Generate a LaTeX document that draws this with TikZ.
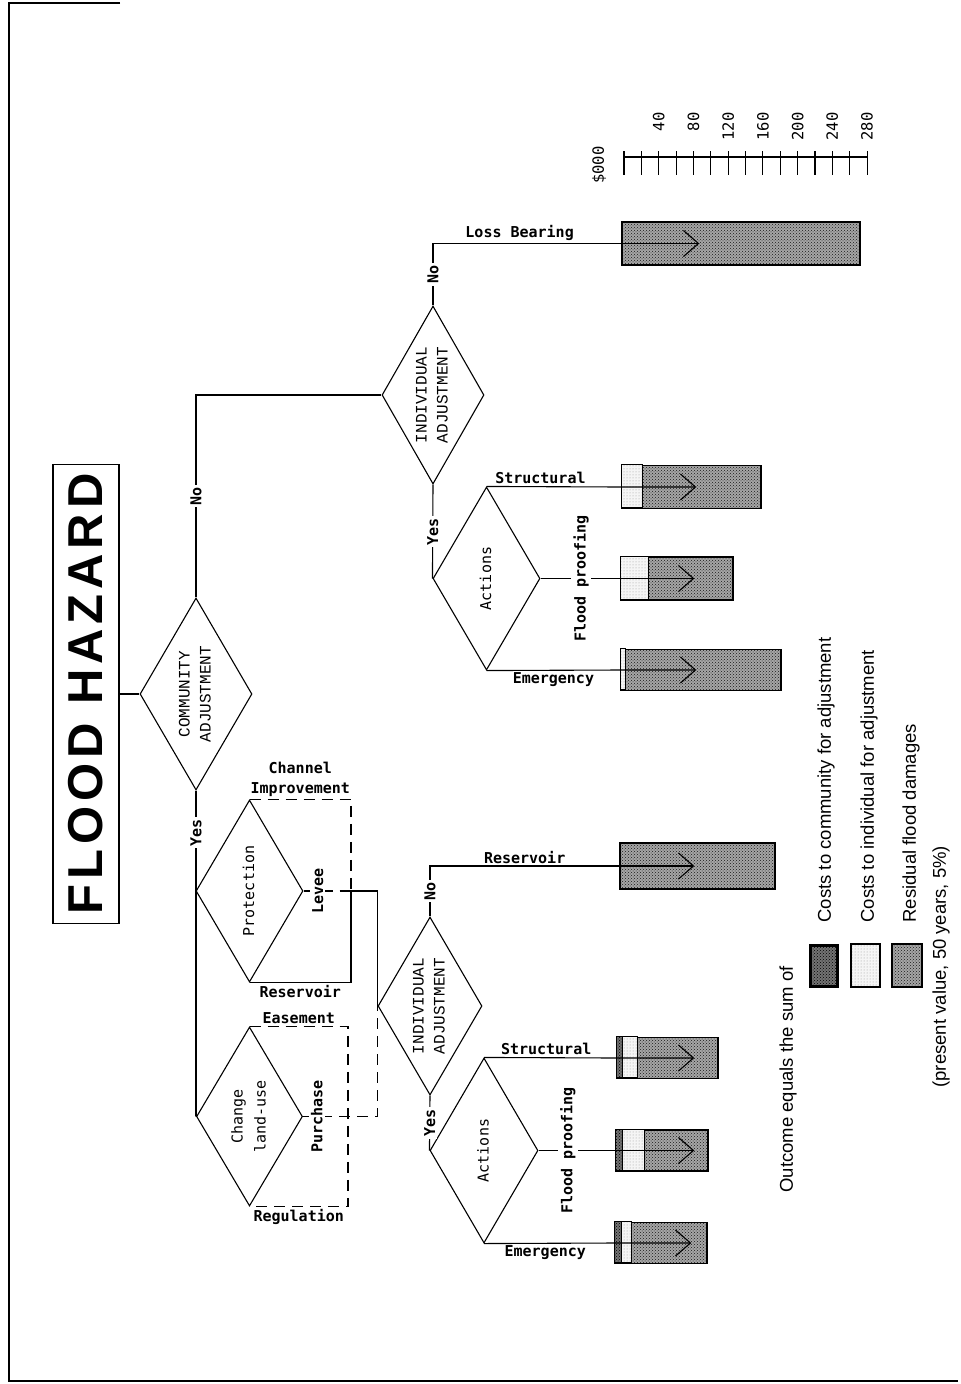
\documentclass[tikz,border=0pt]{standalone}
\usepackage{fontspec}
\setmainfont{Liberation Sans}
\newfontfamily\monofont{DejaVu Sans Mono}
\newfontfamily\capsfont{Liberation Mono}
\newfontfamily\titlefont{Liberation Sans}[LetterSpace=10]
\usetikzlibrary{positioning,arrows.meta,shapes.geometric,patterns}

\newcommand{\vtext}[1]{\rotatebox{90}{\begin{tabular}{@{}c@{}}#1\end{tabular}}}

\begin{document}
\begin{tikzpicture}[
  x=1pt, y=-1pt,
  line width=1.1pt,
  dia/.style={draw, diamond, shape aspect=0.58, inner sep=0pt,
              font=\monofont\fontsize{15}{23}\selectfont},
  capsdia/.style={dia, font=\capsfont\fontsize{16}{21}\selectfont},
  lbl/.style={font=\monofont\bfseries\fontsize{15}{20}\selectfont, inner sep=2pt},
  vlbl/.style={lbl, rotate=90, fill=white},
  scl/.style={font=\monofont\fontsize{15.5}{18}\selectfont, rotate=90, inner sep=0pt},
  leg/.style={font=\fontsize{18.5}{20}\selectfont, rotate=90, inner sep=0pt, anchor=west},
  resid/.style={preaction={fill=black!35}, pattern=crosshatch dots, pattern color=black!90},
  indiv/.style={preaction={fill=black!4}, pattern=dots, pattern color=black!40},
  comm/.style={preaction={fill=black!55}, pattern=crosshatch dots, pattern color=black},
  bar/.style={draw, resid, line width=1.4pt, inner sep=0pt},
  seg/.style={draw, line width=1.2pt},
  dsh/.style={dash pattern=on 11pt off 7pt},
  tip/.style={-{Straight Barb[length=15pt,width=26pt,line width=1.1pt]}}
]
\useasboundingbox (0,0) rectangle (961,1384);
% page frame
\draw[line width=2pt] (120,3) -- (9,3) -- (9,1381) -- (958,1381);

% title and decision diamonds
\node[draw, line width=1.6pt, minimum width=66, minimum height=459, inner sep=0pt] (title)
  at (86,694) {\rotatebox{90}{\titlefont\bfseries\fontsize{49}{50}\selectfont FLOOD HAZARD}};
\node[capsdia, minimum width=112, minimum height=192] (comm) at (196,694) {\vtext{COMMUNITY\\ADJUSTMENT}};
\node[capsdia, minimum width=102, minimum height=178] (ind1) at (433,395) {\vtext{INDIVIDUAL\\ADJUSTMENT}};
\node[dia, minimum width=107, minimum height=183] (act1) at (486.5,578.5) {\vtext{Actions}};
\node[dia, minimum width=107, minimum height=182] (prot) at (249.5,891) {\vtext{Protection}};
\node[dia, minimum width=106, minimum height=179] (land) at (249.5,1116.5) {\vtext{Change\\land-use}};
\node[capsdia, minimum width=104, minimum height=178] (ind2) at (430,1006) {\vtext{INDIVIDUAL\\ADJUSTMENT}};
\node[dia, minimum width=108, minimum height=185] (act2) at (484,1150.5) {\vtext{Actions}};

% outcome bars
\node[bar, minimum width=238, minimum height=43] (lb) at (741,243.5) {};
\node[bar, minimum width=139, minimum height=43] (s1) at (691.5,487) {};
\node[bar, minimum width=112, minimum height=43] (f1) at (677,578.5) {};
\node[bar, minimum width=160, minimum height=41] (e1) at (701,670) {};
\node[bar, minimum width=155, minimum height=46] (r2) at (697.5,866) {};
\node[bar, minimum width=101, minimum height=41] (s2) at (667.5,1058) {};
\node[bar, minimum width=92, minimum height=41] (f2) at (662,1150.5) {};
\node[bar, minimum width=92, minimum height=41] (e2) at (661,1243) {};

\draw[seg, indiv] (s1.north west) rectangle ++(21,43);
\draw[seg, indiv] (f1.north west) rectangle ++(28,43);
\draw[seg, indiv] (e1.north west) rectangle ++(5,41);
\draw[seg, indiv] (s2.north west) rectangle ++(21,41);
\draw[seg, comm] (s2.north west) rectangle ++(6,41);
\draw[seg, indiv] (f2.north west) rectangle ++(29,41);
\draw[seg, comm] (f2.north west) rectangle ++(7,41);
\draw[seg, indiv] (e2.north west) rectangle ++(17,41);
\draw[seg, comm] (e2.north west) rectangle ++(7,41);

\coordinate (lbtip) at ([xshift=78pt]lb.west);
\coordinate (s1tip) at ([xshift=75pt]s1.west);
\coordinate (f1tip) at ([xshift=74pt]f1.west);
\coordinate (e1tip) at ([xshift=76pt]e1.west);
\coordinate (r2tip) at ([xshift=75pt]r2.west);
\coordinate (s2tip) at ([xshift=78pt]s2.west);
\coordinate (f2tip) at ([xshift=79pt]f2.west);
\coordinate (e2tip) at ([xshift=77pt]e2.west);

% community branch
\draw (title.east) -- (comm.west);
\draw (comm.north) -- node[vlbl]{No} (comm.north |- ind1.west) -- (ind1.west);
\draw (comm.south) -- node[vlbl, pos=.13]{Yes} (comm.south |- land.west) -- (land.west);

% individual adjustment (no community adjustment)
\draw[tip] (ind1.north) -- node[vlbl]{No} (ind1.north |- lb.west)
  -- node[lbl, above, pos=.46]{Loss Bearing} (lb.west) -- (lbtip);
\draw (ind1.south) -- node[vlbl]{Yes} (act1.west);
\draw[tip] (act1.north) -- node[lbl, above, pos=.4]{Structural} (s1.west) -- (s1tip);
\draw[tip] (act1.east) -- node[vlbl, pos=.37, yshift=-11pt]{Flood proofing} (f1.west) -- (f1tip);
\draw[tip] (act1.south) -- node[lbl, below]{Emergency} (e1.west) -- (e1tip);

% protection works
\coordinate (j1) at (351,891);
\draw[dsh] (prot.north) -- node[lbl, above, align=center]{Channel\\Improvement} (prot.north -| j1) -- (j1);
\draw[dsh] (prot.east) -- node[vlbl, pos=.3]{Levee} (j1);
\draw (prot.south) -- node[lbl, below]{Reservoir} (prot.south -| j1) -- (j1);
\draw (j1) -- (j1 -| ind2.west) -- (ind2.west);

% land-use change
\coordinate (lx) at (348,1116.5);
\draw[dsh] (land.north) -- node[lbl, above]{Easement} (land.north -| lx)
  -- (land.south -| lx) -- node[lbl, below]{Regulation} (land.south);
\draw[dsh] (land.east) -- node[vlbl, pos=.185]{Purchase} (land.east -| ind2.west) -- (ind2.west);

% individual adjustment (with community adjustment)
\draw[tip] (ind2.north) -- node[vlbl]{No} (ind2.north |- r2.west)
  -- node[lbl, above]{Reservoir} (r2.west) -- (r2tip);
\draw (ind2.south) -- node[vlbl]{Yes} (act2.west);
\draw[tip] (act2.north) -- node[lbl, above, pos=.47]{Structural} (s2.west) -- (s2tip);
\draw[tip] (act2.east) -- node[vlbl, pos=.33, yshift=-4pt]{Flood proofing} (f2.west) -- (f2tip);
\draw[tip] (act2.south) -- node[lbl, below, pos=.47]{Emergency} (e2.west) -- (e2tip);

% cost scale
\draw (624,157) -- (867,157);
\foreach \i in {0,...,14}
  \draw (624+\i*17.36,151) -- (624+\i*17.36,175);
\foreach \v [count=\k] in {40,80,...,280}
  \node[scl, anchor=east] at (624+\k*34.72,112) {\v};
\node[scl] (unit) at (599,165) {\$000};

% legend
\node[leg] (legtitle) at (788,1193) {Outcome equals the sum of};
\draw[comm, line width=3pt] (810,945) rectangle (837,986);
\draw[indiv, line width=1.4pt] (851,944) rectangle (880,987);
\draw[resid, line width=1.4pt] (892,944) rectangle (922,987);
\node[leg] (legcomm) at (826,923) {Costs to community for adjustment};
\node[leg] (legind) at (869,923) {Costs to individual for adjustment};
\node[leg] (legres) at (911,923) {Residual flood damages};
\node[leg] (legnote) at (941,1088) {(present value, 50 years, 5\%)};
\end{tikzpicture}
\end{document}
